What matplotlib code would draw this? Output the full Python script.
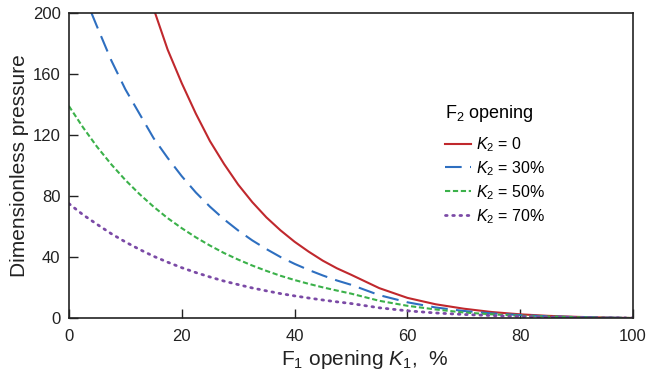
import numpy as np
import matplotlib
matplotlib.use("Agg")
import matplotlib.pyplot as plt

plt.rcParams['font.family'] = ['Liberation Sans', 'DejaVu Sans']
plt.rcParams['mathtext.fontset'] = 'custom'
plt.rcParams['mathtext.rm'] = 'Liberation Sans'
plt.rcParams['mathtext.it'] = 'Liberation Sans:italic'

# values
k1_red = [15, 17.5, 20, 22.5, 25, 27.5, 30, 32.5, 35, 37.5, 40, 42.5, 45, 47.5, 50,
          55, 60, 65, 70, 75, 80, 85, 90, 95, 100]
p_red = [203, 176, 154, 134, 116, 101, 87.5, 76, 66, 57.5, 50, 43.5, 37.6, 32.6, 28.4,
         19.6, 13.2, 9.0, 6.1, 3.9, 2.4, 1.4, 0.75, 0.3, 0]

k1_blue = [4, 5, 7.5, 10, 12.5, 15, 17.5, 20, 22.5, 25, 27.5, 30, 32.5, 35, 37.5, 40,
           42.5, 45, 47.5, 50, 55, 60, 65, 70, 75, 80, 85, 90, 95, 100]
p_blue = [200, 191, 169, 150, 134, 118, 105, 93, 82.3, 73, 64.7, 57.4, 50.9, 45.2, 40,
          35.5, 31.5, 27.9, 24.6, 21.8, 15, 10.3, 6.9, 4.6, 3.0, 1.9, 1.1, 0.6, 0.25, 0]

k1_all = [0, 2.5, 5, 7.5, 10, 12.5, 15, 17.5, 20, 22.5, 25, 27.5, 30, 32.5, 35, 37.5,
          40, 42.5, 45, 47.5, 50, 55, 60, 65, 70, 75, 80, 85, 90, 95, 100]
p_green = [139, 125, 112.2, 100.8, 90.5, 81.3, 73, 65.5, 58.9, 52.9, 47.5, 42.6, 38.3,
           34.4, 30.9, 27.7, 24.9, 22.4, 20.1, 18.0, 16.0, 11.3, 8.0, 5.6, 3.6, 2.4,
           1.5, 0.9, 0.5, 0.2, 0]
p_purple = [75, 67.7, 61.4, 55.3, 49.9, 45, 40.5, 36.6, 33, 29.8, 26.9, 24.2, 21.9,
            19.7, 17.8, 16, 14.5, 13.1, 11.8, 10.6, 9.5, 6.7, 4.7, 3.3, 2.3, 1.6,
            1.0, 0.6, 0.3, 0.1, 0]

labels = [r'$K_2$ = 0', r'$K_2$ = 30%', r'$K_2$ = 50%', r'$K_2$ = 70%']

fig = plt.figure(figsize=(6.5, 3.77), dpi=100)
ax = fig.add_axes([0.106, 0.1565, 0.868, 0.809])

ax.plot(k1_red, p_red, color='#c0282d', lw=1.5, label=labels[0])
ax.plot(k1_blue, p_blue, color='#2e6fc0', lw=1.5, dashes=(8, 4), label=labels[1])
ax.plot(k1_all, p_green, color='#3bb14a', lw=1.5, dashes=(2.5, 1.3), label=labels[2])
ax.plot(k1_all, p_purple, color='#7b4aa6', lw=2, dashes=(0.6, 2.0),
        dash_capstyle='round', label=labels[3])

ax.set_xlim(0, 100)
ax.set_ylim(0, 200)
ax.set_xticks(np.arange(0, 101, 20))
ax.set_yticks(np.arange(0, 201, 40))
ax.tick_params(direction='in', length=6.5, width=1, labelsize=12, colors='#222222')
ax.tick_params(axis='x', pad=8)
ax.tick_params(axis='y', pad=6)
for s in ax.spines.values():
    s.set_linewidth(1.2)
    s.set_color('#222222')

ax.set_xlabel(r'F$_1$ opening $K_1$,  %', fontsize=15, color='#222222')
ax.xaxis.set_label_coords(0.525, -0.098)
ax.set_ylabel('Dimensionless pressure', fontsize=15, labelpad=3, color='#222222')

leg = ax.legend(loc='upper left', bbox_to_anchor=(0.667, 0.705), frameon=False,
                title=r'F$_2$ opening', title_fontsize=13, fontsize=11.5,
                handlelength=1.6, handletextpad=0.3, labelspacing=0.33,
                borderpad=0, borderaxespad=0, alignment='left')
leg._legend_box.sep = 8

fig.savefig('out.png', dpi=100)
